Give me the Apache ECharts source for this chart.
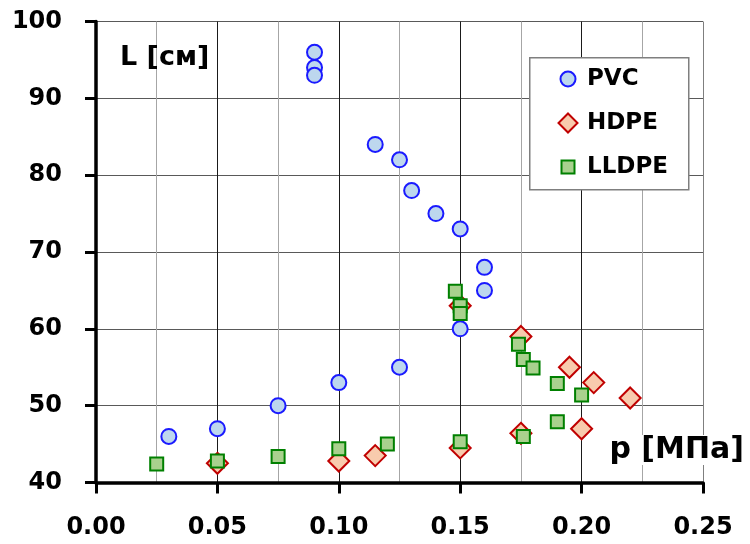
<!DOCTYPE html>
<html>
<head>
<meta charset="utf-8">
<script src="https://cdn.jsdelivr.net/npm/echarts@6/dist/echarts.min.js"></script>
<style>html,body{margin:0;padding:0;background:#fff}#c{width:750px;height:544px}</style>
</head>
<body>
<div id="c"></div>
<script>
const seriesNames = ['PVC', 'HDPE', 'LLDPE'];
const pvcX = [0.03, 0.05, 0.075, 0.10, 0.09, 0.09, 0.09, 0.115, 0.125, 0.13, 0.14, 0.15, 0.16, 0.16, 0.15, 0.125];
const pvcY = [46, 47, 50, 53, 96, 94, 93, 84, 82, 78, 75, 73, 68, 65, 60, 55];
const hdpeX = [0.05, 0.10, 0.115, 0.15, 0.15, 0.175, 0.175, 0.195, 0.205, 0.22, 0.20];
const hdpeY = [42.5, 42.8, 43.5, 44.5, 63, 59, 46.4, 55, 53, 51, 47];
const lldpeX = [0.025, 0.05, 0.075, 0.10, 0.12, 0.15, 0.148, 0.15, 0.15, 0.174, 0.176, 0.18, 0.19, 0.20, 0.19, 0.176];
const lldpeY = [42.4, 42.8, 43.4, 44.4, 45, 45.3, 64.9, 63, 62, 58, 56, 54.9, 52.9, 51.4, 47.9, 46];
const xTicks = ['0.00', '0.05', '0.10', '0.15', '0.20', '0.25'];
const yTicks = ['40', '50', '60', '70', '80', '90', '100'];
const yAxisName = 'L [см]';
const xAxisName = 'p [МПа]';

const FONT = '"DejaVu Sans", sans-serif';
const zip = (xs, ys) => xs.map((x, i) => [x, ys[i]]);

const styles = {
  PVC: { symbol: 'circle', size: 15, fill: '#bdd7ee', stroke: '#1a1aff', legSize: 15 },
  HDPE: { symbol: 'diamond', size: 21, fill: '#f8cbad', stroke: '#c00000', legSize: 19 },
  LLDPE: { symbol: 'rect', size: 13, fill: '#a9d18e', stroke: '#008000', legSize: 13 }
};
const dataMap = { PVC: zip(pvcX, pvcY), HDPE: zip(hdpeX, hdpeY), LLDPE: zip(lldpeX, lldpeY) };

const legendIconCx = 567, legendTextX = 586;
const legendRowsY = [79, 123, 167];
const legends = seriesNames.map((n, i) => {
  const w = styles[n].legSize;
  const left = legendIconCx - w / 2;
  return {
    orient: 'vertical', left: left, top: legendRowsY[i] - 12, z: 100, zlevel: 0,
    padding: 0, itemWidth: w, itemHeight: w, itemGap: 0,
    textStyle: { color: '#000', fontFamily: FONT, fontWeight: 'bold', fontSize: 23, lineHeight: 24,
      padding: [0, 0, 0, legendTextX - left - w - 5] },
    data: [{ name: n, icon: styles[n].symbol }]
  };
});

const chart = echarts.init(document.getElementById('c'), null, { renderer: 'canvas' });
chart.setOption({
  animation: false,
  backgroundColor: '#ffffff',
  grid: { left: 96, right: 47, top: 21.5, bottom: 61.5, containLabel: false },
  xAxis: {
    type: 'value', min: 0, max: 0.25, interval: 0.05,
    axisLine: { show: true, onZero: false, lineStyle: { color: '#000', width: 3.5 } },
    axisTick: { show: true, length: 11, lineStyle: { color: '#000', width: 3 } },
    axisLabel: {
      margin: 33, color: '#000', fontFamily: FONT, fontWeight: 'bold', fontSize: 24,
      formatter: v => xTicks[Math.round(v / 0.05)]
    },
    splitLine: { show: true, lineStyle: { color: ['#1a1a1a', '#1a1a1a', '#1a1a1a', '#1a1a1a', '#1a1a1a', '#7f7f7f'], width: 1 } },
    minorTick: { show: false, splitNumber: 2 },
    minorSplitLine: { show: true, lineStyle: { color: '#a6a6a6', width: 1 } }
  },
  yAxis: {
    type: 'value', min: 40, max: 100, interval: 10,
    axisLine: { show: true, onZero: false, lineStyle: { color: '#000', width: 3.5 } },
    axisTick: { show: true, length: 11, lineStyle: { color: '#000', width: 3 } },
    axisLabel: {
      margin: 34, color: '#000', fontFamily: FONT, fontWeight: 'bold', fontSize: 24,
      formatter: v => yTicks[Math.round((v - 40) / 10)]
    },
    splitLine: { show: true, lineStyle: { color: '#595959', width: 1.2 } }
  },
  legend: legends,
  graphic: {
    z: 5,
    elements: [
      { type: 'rect', left: 529, top: 57, z: 5,
        shape: { width: 159, height: 132 },
        style: { fill: '#fff', stroke: '#7f7f7f', lineWidth: 1.5 } },
      { type: 'text', left: 120, top: 44, z: 6,
        style: { text: yAxisName, fill: '#000', font: 'bold 27px ' + FONT } },
      { type: 'text', right: 4, top: 435, z: 6,
        style: { text: xAxisName, fill: '#000', font: 'bold 30px ' + FONT, backgroundColor: '#fff', padding: [0, 2, 0, 4] } }
    ]
  },
  series: seriesNames.map(n => ({
    name: n, type: 'scatter', symbol: styles[n].symbol, symbolSize: styles[n].size,
    itemStyle: { color: styles[n].fill, borderColor: styles[n].stroke, borderWidth: 2, opacity: 1 },
    emphasis: { disabled: true },
    data: dataMap[n]
  }))
});
</script>
</body>
</html>
